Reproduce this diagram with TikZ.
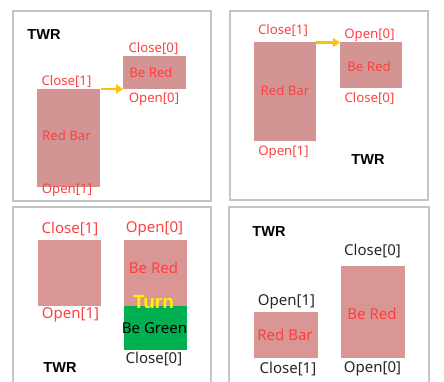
\documentclass[tikz,border=0pt]{standalone}
\usepackage{fontspec}
\setmainfont{Noto Sans}
\newfontfamily\bfam{Liberation Sans}
\usetikzlibrary{arrows.meta}
\definecolor{barfill}{HTML}{D39593}
\definecolor{barfillb}{HTML}{D99695}
\definecolor{redtxt}{HTML}{FF3F3F}
\definecolor{arrowc}{HTML}{FFC000}
\definecolor{greenfill}{HTML}{00B050}
\definecolor{frame}{HTML}{C4C4C4}
\definecolor{darktxt}{HTML}{262626}
\tikzset{
  panel/.style={draw=frame, line width=1.3pt},
  bar/.style={fill=barfill, draw=none, inner sep=0pt},
  barb/.style={fill=barfillb, draw=none, inner sep=0pt},
  lblA/.style={text=redtxt, font=\fontsize{13.2}{14}\selectfont, inner sep=0pt},
  lblB/.style={text=redtxt, font=\fontsize{15}{16}\selectfont, inner sep=0pt},
  lblD/.style={text=darktxt, font=\fontsize{15}{16}\selectfont, inner sep=0pt},
  twr/.style={font=\bfam\bfseries\fontsize{14.5}{16}\selectfont, inner sep=0pt},
  turnlbl/.style={text=yellow, font=\bfam\bfseries\fontsize{19}{20}\selectfont, inner sep=0pt},
  flow/.style={draw=arrowc, line width=2.4pt, -{Triangle[length=7pt,width=9pt]}, shorten >=0pt}
}
\begin{document}
\begin{tikzpicture}[x=1pt,y=-1pt]
\clip (0,0) rectangle (444,381);
% panels
\draw[panel] (13,11) rectangle (211,201);
\draw[panel] (230,11) rectangle (428,200);
\draw[panel] (13,207) rectangle (211,390);
\draw[panel] (229,207) rectangle (429,390);

% ---- panel 1
\node[twr] (t1) at (44,35) {TWR};
\node[bar, minimum width=63pt, minimum height=98pt] (rb1) at (68.5,138) {};
\node[lblA] (rb1t) at (66.5,136) {Red Bar};
\node[bar, minimum width=63pt, minimum height=33pt] (br1) at (154.5,72.5) {};
\node[lblA] (br1t) at (151,73) {Be Red};
\node[lblA] (c0a) at (153.5,49) {Close[0]};
\node[lblA] (o0a) at (154,99) {Open[0]};
\node[lblA] (c1a) at (66.5,82) {Close[1]};
\node[lblA] (o1a) at (67,190.5) {Open[1]};
\coordinate (a1s) at (101,89);
\coordinate (a1e) at (123,89);
\draw[flow] (a1s) -- (a1e);

% ---- panel 2
\node[bar, minimum width=62pt, minimum height=99pt] (rb2) at (285,91.5) {};
\node[lblA] (rb2t) at (285,91) {Red Bar};
\node[bar, minimum width=62pt, minimum height=46pt] (br2) at (371,65) {};
\node[lblA] (br2t) at (369,67) {Be Red};
\node[lblA] (c1b) at (283,31) {Close[1]};
\node[lblA] (o1b) at (283.5,152) {Open[1]};
\node[lblA] (o0b) at (369.5,35) {Open[0]};
\node[lblA] (c0b) at (369.5,99) {Close[0]};
\node[twr] (t2) at (368,160) {TWR};
\coordinate (a2s) at (316,42.5);
\coordinate (a2e) at (340,42.5);
\draw[flow] (a2s) -- (a2e);

% ---- panel 3
\node[barb, minimum width=63pt, minimum height=66pt] (bx3) at (69.5,273) {};
\node[lblB] (c1c) at (70,228.5) {Close[1]};
\node[lblB] (o1c) at (70.5,314.5) {Open[1]};
\node[barb, minimum width=63pt, minimum height=66pt] (br3) at (155.5,273) {};
\node[fill=greenfill, inner sep=0pt, minimum width=63pt, minimum height=44pt] (gr3) at (155.5,328) {};
\node[lblB] (br3t) at (153.5,268) {Be Red};
\node[text=black, font=\fontsize{15}{16}\selectfont, inner sep=0pt] (gr3t) at (154.5,328.5) {Be Green};
\node[turnlbl] (turn) at (153.5,302.5) {Turn};
\node[lblB] (o0c) at (154.5,229) {Open[0]};
\node[lblD] (c0c) at (154,358.5) {Close[0]};
\node[twr] (t3) at (60,368) {TWR};

% ---- panel 4
\node[twr] (t4) at (269,232) {TWR};
\node[barb, minimum width=64pt, minimum height=92pt] (br4) at (373,312) {};
\node[lblB] (br4t) at (372,314) {Be Red};
\node[barb, minimum width=64pt, minimum height=46pt] (rb4) at (286,335) {};
\node[lblB] (rb4t) at (285,334.5) {Red Bar};
\node[lblD] (c0d) at (372.5,250.5) {Close[0]};
\node[lblD] (o1d) at (286.5,301.5) {Open[1]};
\node[lblD] (c1d) at (288,369) {Close[1]};
\node[lblD] (o0d) at (372.5,368.5) {Open[0]};
\end{tikzpicture}
\end{document}
